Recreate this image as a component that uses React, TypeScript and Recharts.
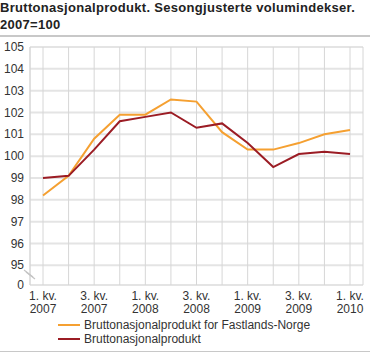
import React from "react";
import { LineChart, Line, XAxis, YAxis, CartesianGrid, Legend } from "recharts";

const quarters = [
  "1. kv. 2007",
  "2. kv. 2007",
  "3. kv. 2007",
  "4. kv. 2007",
  "1. kv. 2008",
  "2. kv. 2008",
  "3. kv. 2008",
  "4. kv. 2008",
  "1. kv. 2009",
  "2. kv. 2009",
  "3. kv. 2009",
  "4. kv. 2009",
  "1. kv. 2010",
];
const fastlandsNorge = [98.2, 99.1, 100.8, 101.9, 101.9, 102.6, 102.5, 101.1, 100.3, 100.3, 100.6, 101.0, 101.2];
const bnp = [99.0, 99.1, 100.3, 101.6, 101.8, 102.0, 101.3, 101.5, 100.6, 99.5, 100.1, 100.2, 100.1];
// 94.1 stands for the "0" below the axis break
const yTicks = [94.1, 95, 96, 97, 98, 99, 100, 101, 102, 103, 104, 105];

const data = quarters.map((q, i) => ({ q, fastland: fastlandsNorge[i], bnp: bnp[i] }));

const FONT = "'Liberation Sans', Arial, Helvetica, sans-serif";
const ORANGE = "#f5a031";
const RED = "#9b1c24";

const legendItems = [
  { name: "Bruttonasjonalprodukt for Fastlands-Norge", color: ORANGE },
  { name: "Bruttonasjonalprodukt", color: RED },
];

function YTick(props: any) {
  const { x, y, payload } = props;
  const isZero = payload.value < 95;
  return (
    <g>
      {isZero && (
        <g stroke="#c4c4c4" strokeWidth={1.2}>
          <line x1={x} y1={y - 15} x2={x + 9} y2={y - 8} />
          <line x1={x + 2} y1={y - 13} x2={x + 11} y2={y - 6} />
        </g>
      )}
      <text x={x} y={y} dy={4} textAnchor="end" fontSize={12} fill="#333" fontFamily={FONT}>
        {isZero ? "0" : payload.value}
      </text>
    </g>
  );
}

function XTick(props: any) {
  const { x, y, payload, index } = props;
  if (index % 2 !== 0) return null;
  const [a, b, year] = String(payload.value).split(" ");
  return (
    <text x={x} y={y} textAnchor="middle" fontSize={12} fill="#333" fontFamily={FONT}>
      <tspan x={x} dy={7}>{`${a} ${b}`}</tspan>
      <tspan x={x} dy={12.5}>{year}</tspan>
    </text>
  );
}

function LegendBox() {
  return (
    <div style={{ height: 35, paddingLeft: 58, fontFamily: FONT, fontSize: 12, color: "#333" }}>
      {legendItems.map((it) => (
        <div key={it.name} style={{ display: "flex", alignItems: "center", height: 14 }}>
          <span style={{ display: "inline-block", width: 22, height: 2, background: it.color, marginRight: 4 }} />
          <span>{it.name}</span>
        </div>
      ))}
    </div>
  );
}

export default function App() {
  return (
    <div style={{ position: "absolute", left: 0, top: 0, width: 370, height: 353, background: "#fff", fontFamily: FONT }}>
      <div
        style={{
          position: "absolute",
          left: 0,
          top: 0,
          fontSize: 13,
          fontWeight: "bold",
          lineHeight: "16.5px",
          letterSpacing: 0.3,
          color: "#222",
          whiteSpace: "nowrap",
        }}
      >
        Bruttonasjonalprodukt. Sesongjusterte volumindekser.
        <br />
        2007=100
      </div>
      <div style={{ position: "absolute", left: 0, top: 35, width: 370, height: 2, background: "#c8c8c8" }} />
      <LineChart width={370} height={353} data={data} margin={{ top: 47, right: 7, bottom: 0, left: 0 }}>
        <CartesianGrid vertical={false} stroke="#e4e4e4" strokeWidth={2} />
        <CartesianGrid horizontal={false} stroke="#d6d6d6" />
        <XAxis
          dataKey="q"
          interval={0}
          height={33}
          axisLine={false}
          tickLine={false}
          padding={{ left: 13, right: 13 }}
          tick={<XTick />}
        />
        <YAxis
          type="number"
          domain={[94.1, 105]}
          ticks={yTicks}
          interval={0}
          width={30}
          tickLine={false}
          tickSize={6}
          tickMargin={0}
          axisLine={{ stroke: "#d6d6d6" }}
          tick={<YTick />}
        />
        <Legend verticalAlign="bottom" content={<LegendBox />} />
        <Line
          dataKey="fastland"
          name="Bruttonasjonalprodukt for Fastlands-Norge"
          stroke={ORANGE}
          strokeWidth={2}
          dot={false}
          isAnimationActive={false}
        />
        <Line
          dataKey="bnp"
          name="Bruttonasjonalprodukt"
          stroke={RED}
          strokeWidth={2}
          dot={false}
          isAnimationActive={false}
        />
      </LineChart>
      <div style={{ position: "absolute", left: 0, top: 351, width: 370, height: 1, background: "#c8c8c8" }} />
    </div>
  );
}
